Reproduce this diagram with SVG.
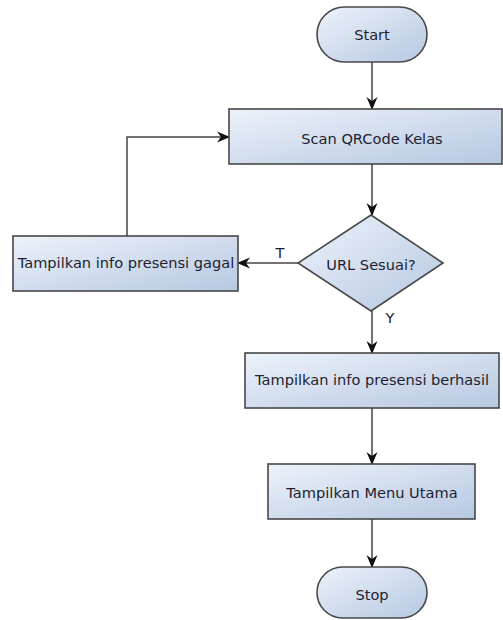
<svg xmlns="http://www.w3.org/2000/svg" width="503" height="620" viewBox="0 0 503 620">
  <defs>
    <linearGradient id="fill" x1="0" y1="0" x2="1" y2="1">
      <stop offset="0" stop-color="#edf2fa"/>
      <stop offset="1" stop-color="#b6c8e2"/>
    </linearGradient>
    <marker id="arrow" markerUnits="userSpaceOnUse" markerWidth="13" markerHeight="12" viewBox="0 0 13 11" refX="12" refY="5.5" orient="auto">
      <path d="M0,0 L13,5.5 L0,11 L4,5.5 Z" fill="#111"/>
    </marker>
    <style>
      .shape { fill: url(#fill); stroke: #484848; stroke-width: 1.6; }
      .label { font-family: "DejaVu Sans", Verdana, sans-serif; font-size: 14.6px; fill: #1e1e30; text-anchor: middle; }
      .edge { fill: none; stroke: #444; stroke-width: 1.5; marker-end: url(#arrow); }
    </style>
  </defs>
  <rect width="503" height="620" fill="#ffffff"/>

  <g id="connectors">
    <path class="edge" d="M372,62 L372,109"/>
    <path class="edge" d="M372,164 L372,215"/>
    <path class="edge" d="M298,263 L238,263"/>
    <path class="edge" d="M127,236 L127,137 L229,137"/>
    <path class="edge" d="M372,311 L372,353"/>
    <path class="edge" d="M372,408 L372,464"/>
    <path class="edge" d="M372,519 L372,567"/>
    <text class="label" x="280" y="258" fill="#2a1a50">T</text>
    <text class="label" x="390" y="323">Y</text>
  </g>

  <g id="start">
    <rect class="shape" x="317" y="7" width="110" height="55" rx="27.5" ry="27.5"/>
    <text class="label" x="372" y="40">Start</text>
  </g>

  <g id="scan">
    <rect class="shape" x="229" y="109" width="273" height="55"/>
    <text class="label" x="372" y="144">Scan QRCode Kelas</text>
  </g>

  <g id="decision">
    <polygon class="shape" points="371,215 443,263 371,311 298,263"/>
    <text class="label" x="371" y="270">URL Sesuai?</text>
  </g>

  <g id="gagal">
    <rect class="shape" x="13" y="236" width="225" height="55"/>
    <text class="label" x="126" y="268">Tampilkan info presensi gagal</text>
  </g>

  <g id="berhasil">
    <rect class="shape" x="245" y="353" width="254" height="55"/>
    <text class="label" x="372" y="385">Tampilkan info presensi berhasil</text>
  </g>

  <g id="menu">
    <rect class="shape" x="268" y="464" width="207" height="55"/>
    <text class="label" x="372" y="498">Tampilkan Menu Utama</text>
  </g>

  <g id="stop">
    <rect class="shape" x="317" y="567" width="110" height="51" rx="25.5" ry="25.5"/>
    <text class="label" x="372" y="600">Stop</text>
  </g>
</svg>
